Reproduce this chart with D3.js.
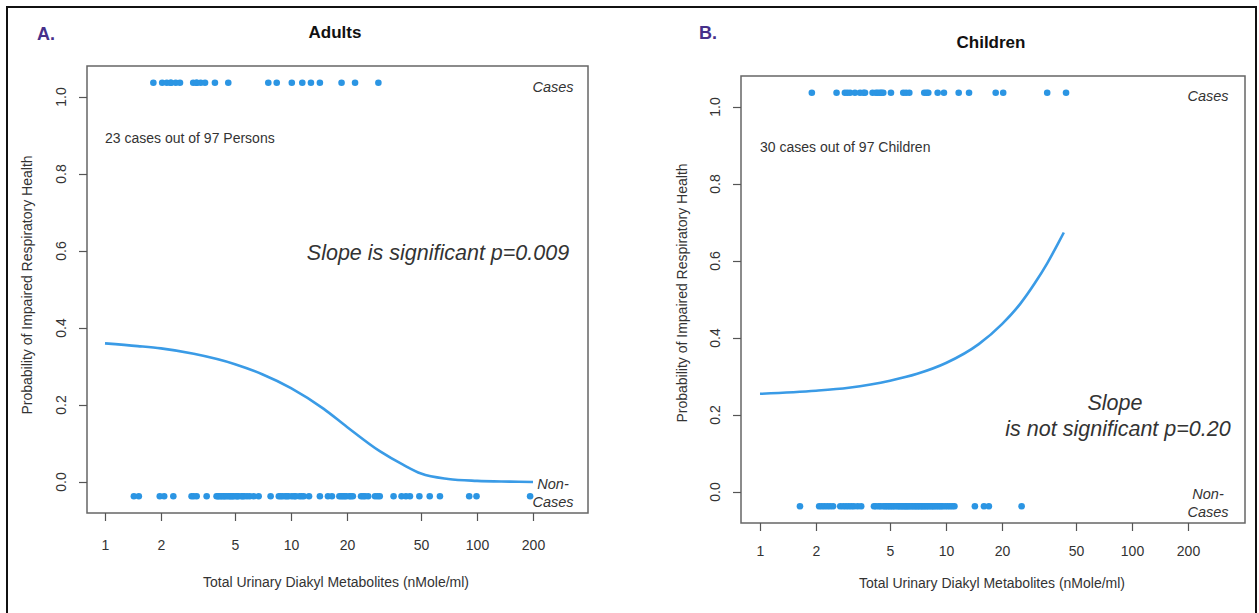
<!DOCTYPE html>
<html><head><meta charset="utf-8">
<script src="https://cdn.jsdelivr.net/npm/d3@7"></script>
<style>
html,body{margin:0;padding:0;background:#fff;}
text{font-family:"Liberation Sans",Arial,sans-serif;fill:#333;}
</style></head>
<body>
<script>
// ---------- data ----------
const xTicks = [1, 2, 5, 10, 20, 50, 100, 200];
const yTicks = [0, 0.2, 0.4, 0.6, 0.8, 1.0];

const adultCases = [1.82, 2.03, 2.15, 2.26, 2.26, 2.40, 2.53, 2.98, 3.11, 3.11, 3.27, 3.45, 3.90, 4.60,
  7.55, 8.38, 10.1, 11.5, 12.8, 14.3, 18.7, 22.1, 29.5];
const adultNonCases = [1.43, 1.52, 1.97, 2.08, 2.33, 2.92, 3.0, 3.11, 3.52,
  3.98, 4.05, 4.1, 4.2, 4.25, 4.35, 4.4, 4.5, 4.6, 4.7, 4.75, 4.85, 4.9, 5.05, 5.15, 5.2, 5.4, 5.5, 5.6, 5.8, 6.0, 6.3, 6.7,
  7.77, 8.6, 8.8, 9.0, 9.3, 9.5, 9.7, 10.1, 10.4, 10.6, 11.1, 11.4, 11.7, 12.5,
  14.3, 15.8, 16.6, 18.2, 18.6, 19.0, 19.4, 19.8, 20.6, 21.0, 21.5, 23.8, 24.4, 25.0, 26.0,
  28.3, 29.2, 30.0, 35.6, 39.3, 41.5, 43.6, 49.0, 55.7, 63.2, 90.8, 99.4, 193];
const adultCurveX = [1, 1.5, 2, 3, 5, 7, 10, 15, 20, 30, 40, 50, 70, 100, 150, 200];
const adultCurveY = [0.360, 0.353, 0.347, 0.333, 0.306, 0.280, 0.244, 0.190, 0.143, 0.080, 0.045, 0.022, 0.008, 0.003, 0.001, 0.000];

const childCases = [1.90, 2.58, 2.86, 2.95, 3.05, 3.24, 3.45, 3.6, 3.67, 4.03, 4.2, 4.3, 4.42, 4.5, 4.60, 5.06,
  5.89, 6.1, 6.35, 7.64, 7.86, 8.03, 9.02, 9.75, 11.7, 13.3, 18.5, 20.3, 35.0, 44.2];
const childNonCases = [1.64, 2.08, 2.15, 2.22, 2.3, 2.38, 2.47, 2.7, 2.8, 2.9, 3.0, 3.1, 3.2, 3.35, 3.5,
  4.1, 4.2, 4.35, 4.45, 4.6, 4.7, 4.8, 4.9, 5.0, 5.1, 5.2, 5.3, 5.45, 5.55, 5.65, 5.75, 5.85, 5.95,
  6.05, 6.15, 6.25, 6.35, 6.5, 6.6, 6.75, 6.85, 7.0, 7.1, 7.25, 7.4, 7.5, 7.65, 7.8, 7.95,
  8.1, 8.3, 8.45, 8.6, 8.8, 9.0, 9.2, 9.4, 9.6, 9.9, 10.2, 10.5, 10.8, 11.1, 14.3, 16.0, 17.0, 25.5];
const childCurveX = [1, 2, 3, 5, 7, 10, 15, 20, 25, 30, 35, 40, 43];
const childCurveY = [0.255, 0.263, 0.271, 0.289, 0.307, 0.335, 0.384, 0.436, 0.488, 0.542, 0.594, 0.645, 0.674];

const caseY = 1.037, nonCaseY = -0.037;

// ---------- drawing ----------
const W = 1259, H = 613;
const blue = "#2b95e3";
const svg = d3.select("body").append("svg").attr("width", W).attr("height", H);
svg.append("rect").attr("width", W).attr("height", H).attr("fill", "#fff");
svg.append("rect").attr("x", 7).attr("y", 7).attr("width", 1249).attr("height", 640)
  .attr("fill", "none").attr("stroke", "#111").attr("stroke-width", 2);

function panel(o) {
  const g = svg.append("g");
  const x = d3.scaleLog().domain([1, 200]).range([o.x0, o.x0 + 186 * Math.log10(200)]);
  const y = d3.scaleLinear().domain([0, 1]).range([o.y0, o.y0 - 385]);
  const bx = o.box;
  // box
  g.append("rect").attr("x", bx[0]).attr("y", bx[1]).attr("width", bx[2] - bx[0]).attr("height", bx[3] - bx[1])
    .attr("fill", "none").attr("stroke", "#666").attr("stroke-width", 1.5);
  // x axis
  const xa = g.append("g").attr("transform", `translate(0,${bx[3]})`)
    .call(d3.axisBottom(x).tickValues(xTicks).tickFormat(d3.format("d")).tickSize(8).tickPadding(0));
  xa.select(".domain").remove();
  xa.selectAll("line").attr("stroke", "#555").attr("stroke-width", 1.2);
  xa.selectAll("text").attr("y", o.xLabY - bx[3]).attr("dy", 0).style("font-size", "14px")
    .style("font-family", "Liberation Sans, Arial, sans-serif").attr("fill", "#333");
  // y axis
  const ya = g.append("g").attr("transform", `translate(${bx[0]},0)`)
    .call(d3.axisLeft(y).tickValues(yTicks).tickFormat(d3.format(".1f")).tickSize(8));
  ya.select(".domain").remove();
  ya.selectAll("line").attr("stroke", "#555").attr("stroke-width", 1.2);
  ya.selectAll("text").remove();
  g.selectAll(".ytl").data(yTicks).enter().append("text")
    .attr("transform", d => `translate(${o.yLabX},${y(d)}) rotate(-90)`)
    .attr("text-anchor", "middle").style("font-size", "14px").text(d3.format(".1f"));
  // axis titles
  g.append("text").attr("x", o.xTitle[0]).attr("y", o.xTitle[1]).attr("text-anchor", "middle")
    .style("font-size", "14px").text("Total Urinary Diakyl Metabolites (nMole/ml)");
  g.append("text").attr("transform", `translate(${o.yTitle[0]},${o.yTitle[1]}) rotate(-90)`)
    .attr("text-anchor", "middle").style("font-size", "14px").text("Probability of Impaired Respiratory Health");
  // titles
  g.append("text").attr("x", o.title[0]).attr("y", o.title[1]).attr("text-anchor", "middle")
    .style("font-size", "17px").style("font-weight", "bold").style("fill", "#111").text(o.titleText);
  g.append("text").attr("x", o.letter[0]).attr("y", o.letter[1])
    .style("font-size", "18px").style("font-weight", "bold").style("fill", "#46308a").text(o.letterText);
  // curve
  const line = d3.line().x(d => x(d[0])).y(d => y(d[1])).curve(d3.curveMonotoneX);
  g.append("path").datum(o.cx.map((v, i) => [v, o.cy[i]])).attr("d", line)
    .attr("fill", "none").attr("stroke", "#3a9be6").attr("stroke-width", 2.6);
  // dots
  g.selectAll(".c").data(o.cases).enter().append("circle")
    .attr("cx", d => x(d)).attr("cy", y(caseY)).attr("r", 3.3).attr("fill", blue);
  g.selectAll(".n").data(o.non).enter().append("circle")
    .attr("cx", d => x(d)).attr("cy", y(nonCaseY)).attr("r", 3.3).attr("fill", blue);
  // labels
  const it = (t, xx, yy, anchor, size) => g.append("text").attr("x", xx).attr("y", yy)
    .attr("text-anchor", anchor).style("font-size", size).style("font-style", "italic").text(t);
  it("Cases", o.caseLab[0], o.caseLab[1], "middle", "14.5px");
  it("Non-", o.caseLab[0], o.nonLab, "middle", "14.5px");
  it("Cases", o.caseLab[0], o.nonLab + 18, "middle", "14.5px");
  g.append("text").attr("x", o.count[0]).attr("y", o.count[1]).style("font-size", "14px").text(o.countText);
  o.slope.forEach(s => it(s[0], s[1], s[2], "middle", "21.5px"));
  return g;
}

panel({
  x0: 105, y0: 482, box: [87, 66, 588, 513], xLabY: 550, yLabX: 66, 
  xTitle: [336, 587], yTitle: [32, 285], title: [335, 38], titleText: "Adults",
  letter: [37, 40], letterText: "A.",
  cx: adultCurveX, cy: adultCurveY, cases: adultCases, non: adultNonCases,
  caseLab: [553, 92], nonLab: 489, count: [105, 143], countText: "23 cases out of 97 Persons",
  slope: [["Slope is significant p=0.009", 438, 260]]
});
panel({
  x0: 760, y0: 492, box: [741, 76, 1245, 523], xLabY: 556, yLabX: 720,
  xTitle: [992, 588], yTitle: [687, 293], title: [991, 48], titleText: "Children",
  letter: [699, 39], letterText: "B.",
  cx: childCurveX, cy: childCurveY, cases: childCases, non: childNonCases,
  caseLab: [1208, 101], nonLab: 499, count: [760, 152], countText: "30 cases out of 97 Children",
  slope: [["Slope", 1115, 410], ["is not significant p=0.20", 1118, 436]]
});
</script>
</body></html>
